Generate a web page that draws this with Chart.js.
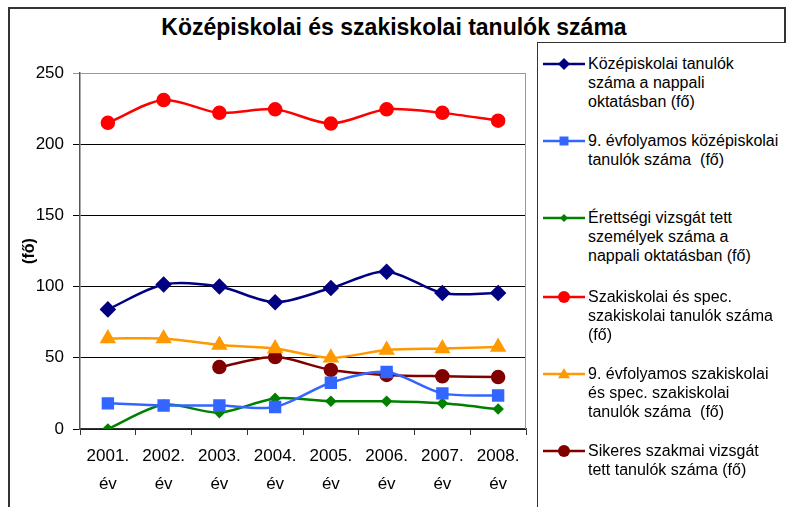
<!DOCTYPE html>
<html>
<head>
<meta charset="utf-8">
<script src="https://cdn.jsdelivr.net/npm/chart.js@4.4.1/dist/chart.umd.min.js"></script>
<style>
  body { margin: 0; background: #fff; font-family: "Liberation Sans", Arial, sans-serif; }
  #wrap { position: relative; width: 787px; height: 507px; overflow: hidden; }
  #frame { position: absolute; left: 8px; top: 7px; width: 778px; height: 520px; border: 2px solid #333; box-sizing: border-box; }
  #title { position: absolute; left: 8px; top: 14px; width: 772px; text-align: center; font-weight: bold; font-size: 23px; color: #000; }
  #chart-box { position: absolute; left: 0; top: 0; width: 537px; height: 507px; }
  #legend { position: absolute; left: 537px; top: 42px; width: 249px; height: 480px; border: 1px solid #333; border-right: none; box-sizing: border-box; background: #fff; overflow: hidden; }
  .item { position: absolute; left: 5px; display: flex; align-items: flex-start; white-space: pre; }
  .item canvas { flex: none; margin-top: 1px; }
  .item span { font-size: 16px; line-height: 19px; color: #000; margin-left: 3px; }
</style>
</head>
<body>
<div id="wrap">
  <div id="frame"></div>
  <div id="title">Középiskolai és szakiskolai tanulók száma</div>
  <div id="chart-box"><canvas id="chart" width="537" height="507"></canvas></div>
  <div id="legend"></div>
</div>
<script>
const years = [["2001.", "év"], ["2002.", "év"], ["2003.", "év"], ["2004.", "év"],
               ["2005.", "év"], ["2006.", "év"], ["2007.", "év"], ["2008.", "év"]];

const kozepiskolaiNappali = [84, 101.5, 100, 89, 99, 110.5, 95.5, 95.5];
const kilencedikKozep = [18, 16.5, 16.5, 15.5, 32.5, 40, 25, 23.5];
const erettsegi = [0, 17, 11.5, 21.5, 19.5, 19.5, 18, 14];
const szakiskolai = [215, 231, 222, 224.5, 214.5, 224.5, 222, 216.5];
const kilencedikSzak = [63.5, 63.5, 59, 56.5, 50, 55.5, 56.5, 57.5];
const sikeresSzakmai = [null, null, 43.5, 50.5, 41.5, 38, 37, 36.5];

const seriesNames = [
  ["Középiskolai tanulók", "száma a nappali", "oktatásban (fő)"],
  ["9. évfolyamos középiskolai", "tanulók száma  (fő)"],
  ["Érettségi vizsgát tett", "személyek száma a", "nappali oktatásban (fő)"],
  ["Szakiskolai és spec.", "szakiskolai tanulók száma", "(fő)"],
  ["9. évfolyamos szakiskolai", "és spec. szakiskolai", "tanulók száma  (fő)"],
  ["Sikeres szakmai vizsgát", "tett tanulók száma (fő)"]
];

const yTicks = [0, 50, 100, 150, 200, 250];

const styles = [
  { color: "#000080", point: "rectRot", radius: 6.5 },
  { color: "#3366ff", point: "rect", radius: 7 },
  { color: "#008000", point: "rectRot", radius: 4 },
  { color: "#ff0000", point: "circle", radius: 6 },
  { color: "#ff9900", point: "triangle", radius: 7 },
  { color: "#800000", point: "circle", radius: 6 }
];
const values = [kozepiskolaiNappali, kilencedikKozep, erettsegi, szakiskolai, kilencedikSzak, sikeresSzakmai];

const datasets = values.map((data, i) => ({
  label: seriesNames[i].join(" "),
  data: data,
  borderColor: styles[i].color,
  backgroundColor: styles[i].color,
  pointStyle: styles[i].point,
  pointRadius: styles[i].radius,
  pointHoverRadius: styles[i].radius,
  borderWidth: 2.5,
  tension: 0.3,
  spanGaps: false
}));

// grey border on top and right of the plot area
const plotBorder = {
  id: "plotBorder",
  beforeDatasetsDraw(chart) {
    const { ctx, chartArea: a } = chart;
    ctx.save();
    ctx.strokeStyle = "#999";
    ctx.lineWidth = 1;
    ctx.beginPath();
    ctx.moveTo(a.left, a.top + 0.5);
    ctx.lineTo(a.right - 0.5, a.top + 0.5);
    ctx.lineTo(a.right - 0.5, a.bottom);
    ctx.stroke();
    ctx.restore();
  }
};

new Chart(document.getElementById("chart").getContext("2d"), {
  type: "line",
  data: { labels: years, datasets: datasets },
  plugins: [plotBorder],
  options: {
    responsive: false,
    animation: false,
    layout: { padding: { top: 73, right: 11, left: 0, bottom: 0 } },
    plugins: { legend: { display: false }, tooltip: { enabled: false }, title: { display: false } },
    scales: {
      x: {
        offset: true,
        grid: { offset: true, drawOnChartArea: false, drawTicks: true, tickLength: 6, color: "#333" },
        border: { color: "#333", width: 1.5 },
        ticks: { color: "#000", padding: 7, maxRotation: 0, autoSkip: false,
                 font: { family: "'Liberation Sans', Arial", size: 17, lineHeight: 1.65 } },
        afterFit: s => { s.height = 78; }
      },
      y: {
        min: 0,
        max: 250,
        afterBuildTicks: s => { s.ticks = yTicks.map(v => ({ value: v })); },
        grid: { tickLength: 7, color: c => c.tick && c.tick.value === 250 ? "#999" : "#000", lineWidth: 1 },
        border: { color: "#555", width: 1.5 },
        ticks: { color: "#000", padding: 9, font: { family: "'Liberation Sans', Arial", size: 17 } },
        title: { display: true, text: "(fő)", color: "#000", padding: { top: 20 },
                 font: { family: "'Liberation Sans', Arial", size: 16, weight: "bold" } },
        afterFit: s => { s.width = 80; }
      }
    }
  }
});

// legend with multi-line labels
const legendTops = [53, 130, 207, 286, 363, 440];
const legend = document.getElementById("legend");
seriesNames.forEach((lines, i) => {
  const item = document.createElement("div");
  item.className = "item";
  item.style.top = (legendTops[i] - 42) + "px";
  const c = document.createElement("canvas");
  c.width = 42; c.height = 18;
  const g = c.getContext("2d");
  const st = styles[i];
  g.strokeStyle = st.color; g.fillStyle = st.color; g.lineWidth = 2.5;
  g.beginPath(); g.moveTo(0, 9); g.lineTo(42, 9); g.stroke();
  const r = Math.min(st.radius, 6);
  g.beginPath();
  if (st.point === "circle") g.arc(21, 9, r, 0, Math.PI * 2);
  else if (st.point === "rect") g.rect(21 - r * 0.75, 9 - r * 0.75, r * 1.5, r * 1.5);
  else if (st.point === "triangle") { g.moveTo(21, 9 - r); g.lineTo(21 + r, 9 + r * 0.7); g.lineTo(21 - r, 9 + r * 0.7); g.closePath(); }
  else { g.moveTo(21, 9 - r); g.lineTo(21 + r, 9); g.lineTo(21, 9 + r); g.lineTo(21 - r, 9); g.closePath(); }
  g.fill();
  const span = document.createElement("span");
  span.textContent = lines.join("\n");
  item.appendChild(c);
  item.appendChild(span);
  legend.appendChild(item);
});
</script>
</body>
</html>
